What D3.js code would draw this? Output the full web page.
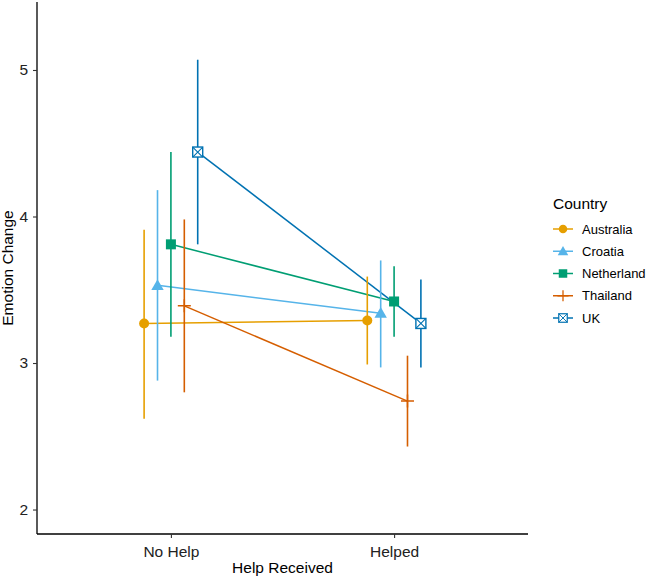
<!DOCTYPE html>
<html>
<head>
<meta charset="utf-8">
<script src="https://cdn.jsdelivr.net/npm/d3@7"></script>
<style>
  body { margin: 0; background: #fff; }
  text { font-family: "Liberation Sans", Arial, sans-serif; }
</style>
</head>
<body>
<div id="chart"></div>
<script>
// data
var conditions = ["No Help", "Helped"];
var countries = ["Australia", "Croatia", "Netherland", "Thailand", "UK"];
var colors = ["#E69F00", "#56B4E9", "#009E73", "#D55E00", "#0072B2"];
var shapes = ["circle", "triangle", "square", "plus", "squarecross"];

// mean, lower, upper per country: [No Help, Helped]
var means = {
    Australia: [3.27, 3.29],
    Croatia: [3.53, 3.34],
    Netherland: [3.81, 3.42],
    Thailand: [3.39, 2.74],
    UK: [4.44, 3.27]
};
var lower = {
    Australia: [2.62, 2.99],
    Croatia: [2.88, 2.97],
    Netherland: [3.18, 3.18],
    Thailand: [2.80, 2.43],
    UK: [3.81, 2.97]
};
var upper = {
    Australia: [3.91, 3.59],
    Croatia: [4.18, 3.70],
    Netherland: [4.44, 3.66],
    Thailand: [3.98, 3.05],
    UK: [5.07, 3.57]
};
var yTicks = [2, 3, 4, 5];

var w = 649;
var h = 577;
var plotLeft = 37, plotRight = 528, plotTop = 2, plotBottom = 534;

var svg = d3.select("#chart")
    .append("svg")
    .attr("width", w)
    .attr("height", h);

var x = d3.scalePoint()
    .domain(conditions)
    .range([plotLeft, plotRight])
    .padding(0.6);

var dodge = d3.scalePoint()
    .domain(countries)
    .range([-26.8, 26.8]);

var y = d3.scaleLinear()
    .domain([1.833, 5.464])
    .range([plotBottom, plotTop]);

var color = d3.scaleOrdinal().domain(countries).range(colors);
var shape = d3.scaleOrdinal().domain(countries).range(shapes);

// build rows
var rows = [];
countries.forEach(function (c) {
    conditions.forEach(function (cond, i) {
        rows.push({country: c, cond: cond, m: means[c][i], lo: lower[c][i], hi: upper[c][i]});
    });
});

function px(d) { return x(d.cond) + dodge(d.country); }

// axes
var xAxis = svg.append("g")
    .attr("transform", "translate(0," + plotBottom + ")")
    .call(d3.axisBottom(x).tickSize(4).tickSizeOuter(0));
var yAxis = svg.append("g")
    .attr("transform", "translate(" + plotLeft + ",0)")
    .call(d3.axisLeft(y).tickValues(yTicks).tickFormat(d3.format("d")).tickSize(4).tickSizeOuter(0));

xAxis.select(".domain").attr("d", "M" + plotLeft + ",0H" + plotRight);
yAxis.select(".domain").attr("d", "M0," + plotTop + "V" + plotBottom);
[xAxis, yAxis].forEach(function (g) {
    g.select(".domain").attr("stroke", "#000").attr("stroke-width", 1.3);
    g.selectAll(".tick line").attr("stroke", "#333").attr("stroke-width", 1.1);
    g.selectAll(".tick text").attr("fill", "#222").style("font-size", "15.5px");
});
xAxis.selectAll(".tick text").attr("dy", "1.05em");
yAxis.selectAll(".tick text").attr("dx", "-2px");

svg.append("text")
    .attr("x", (plotLeft + plotRight) / 2)
    .attr("y", 573)
    .attr("text-anchor", "middle")
    .style("font-size", "15.5px")
    .text("Help Received");

svg.append("text")
    .attr("transform", "translate(13," + ((plotTop + plotBottom) / 2) + ") rotate(-90)")
    .attr("text-anchor", "middle")
    .style("font-size", "15.5px")
    .text("Emotion Change");

// connecting lines
var line = d3.line().x(px).y(function (d) { return y(d.m); });
svg.selectAll(".conn")
    .data(countries)
    .enter()
    .append("path")
    .attr("class", "conn")
    .attr("fill", "none")
    .attr("stroke", function (c) { return color(c); })
    .attr("stroke-width", 1.5)
    .attr("d", function (c) {
        return line(rows.filter(function (r) { return r.country === c; }));
    });

// error bars
svg.selectAll(".err")
    .data(rows)
    .enter()
    .append("line")
    .attr("class", "err")
    .attr("x1", px).attr("x2", px)
    .attr("y1", function (d) { return y(d.lo); })
    .attr("y2", function (d) { return y(d.hi); })
    .attr("stroke", function (d) { return color(d.country); })
    .attr("stroke-width", 1.6);

// point markers
function drawShape(g, type, col) {
    if (type === "circle") {
        g.append("circle").attr("r", 5).attr("fill", col);
    } else if (type === "triangle") {
        g.append("path").attr("d", "M0,-6.2L6.2,4.6L-6.2,4.6Z").attr("fill", col);
    } else if (type === "square") {
        g.append("rect").attr("x", -5).attr("y", -5).attr("width", 10).attr("height", 10).attr("fill", col);
    } else if (type === "plus") {
        g.append("path").attr("d", "M-6.5,0H6.5M0,-6.5V6.5")
            .attr("stroke", col).attr("stroke-width", 1.5).attr("fill", "none");
    } else {
        g.append("rect").attr("x", -5).attr("y", -5).attr("width", 10).attr("height", 10)
            .attr("fill", "#fff").attr("stroke", col).attr("stroke-width", 1.4);
        g.append("path").attr("d", "M-5,-5L5,5M5,-5L-5,5")
            .attr("stroke", col).attr("stroke-width", 1.1).attr("fill", "none");
    }
}

svg.selectAll(".pt")
    .data(rows)
    .enter()
    .append("g")
    .attr("class", "pt")
    .attr("transform", function (d) { return "translate(" + px(d) + "," + y(d.m) + ")"; })
    .each(function (d) {
        drawShape(d3.select(this), shape(d.country), color(d.country));
    });

// legend
var legend = svg.append("g").attr("transform", "translate(553,0)");
legend.append("text")
    .attr("x", 0)
    .attr("y", 209)
    .style("font-size", "15.5px")
    .text("Country");

var item = legend.selectAll(".item")
    .data(countries)
    .enter()
    .append("g")
    .attr("class", "item")
    .attr("transform", function (d, i) { return "translate(0," + (229 + i * 22.25) + ")"; });

item.append("line")
    .attr("x1", 0).attr("x2", 20)
    .attr("stroke", function (c) { return color(c); })
    .attr("stroke-width", 1.5);
item.append("g")
    .each(function (c) {
        var g = d3.select(this).attr("transform", "translate(10,0) scale(0.85)");
        drawShape(g, shape(c), color(c));
    });
item.append("text")
    .attr("x", 29)
    .attr("dy", "0.35em")
    .style("font-size", "13px")
    .text(function (c) { return c; });
</script>
</body>
</html>
